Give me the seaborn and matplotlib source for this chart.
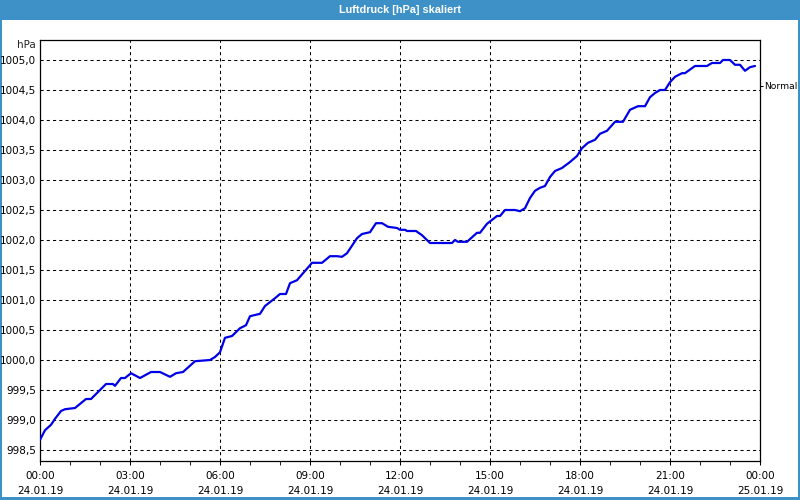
import matplotlib
matplotlib.use("Agg")
import matplotlib.pyplot as plt
import matplotlib.dates as mdates
from matplotlib.patches import Rectangle
from matplotlib.ticker import FuncFormatter
import numpy as np
import pandas as pd
import seaborn as sns

# ---- data (minutes after 24.01.19 00:00, pressure in hPa) ----
minutes = [0, 10, 22, 30, 42, 50, 70, 92, 102, 132, 146, 150, 162, 170, 182, 200,
           222, 240, 260, 272, 286, 310, 340, 350, 360, 370, 384, 400, 412, 420,
           440, 450, 470, 480, 492, 500, 514, 540, 544, 564, 580, 594, 604, 614,
           634, 644, 660, 672, 684, 696, 714, 720, 730, 734, 752, 764, 780, 824,
           830, 836, 854, 874, 880, 894, 914, 920, 930, 950, 960, 970, 980, 990,
           1000, 1010, 1020, 1030, 1044, 1060, 1074, 1084, 1096, 1110, 1120, 1134,
           1150, 1166, 1180, 1196, 1210, 1220, 1230, 1240, 1250, 1260, 1270, 1284,
           1290, 1310, 1334, 1344, 1360, 1366, 1380, 1390, 1400, 1410, 1420, 1430]
pressure = [998.67, 998.83, 998.92, 999.02, 999.15, 999.18, 999.20, 999.35, 999.35,
            999.60, 999.60, 999.57, 999.70, 999.70, 999.78, 999.70, 999.80, 999.80,
            999.72, 999.78, 999.80, 999.98, 1000.00, 1000.05, 1000.13, 1000.37,
            1000.40, 1000.53, 1000.58, 1000.73, 1000.77, 1000.90, 1001.03, 1001.10,
            1001.10, 1001.28, 1001.33, 1001.58, 1001.62, 1001.62, 1001.73, 1001.73,
            1001.72, 1001.78, 1002.03, 1002.10, 1002.13, 1002.28, 1002.28, 1002.22,
            1002.20, 1002.17, 1002.17, 1002.15, 1002.15, 1002.08, 1001.95, 1001.95,
            1002.00, 1001.97, 1001.97, 1002.12, 1002.12, 1002.27, 1002.40, 1002.40,
            1002.50, 1002.50, 1002.48, 1002.53, 1002.70, 1002.82, 1002.87, 1002.90,
            1003.05, 1003.15, 1003.20, 1003.30, 1003.40, 1003.53, 1003.62, 1003.67,
            1003.77, 1003.82, 1003.97, 1003.97, 1004.17, 1004.23, 1004.23, 1004.38,
            1004.45, 1004.50, 1004.50, 1004.63, 1004.72, 1004.78, 1004.78, 1004.90,
            1004.90, 1004.95, 1004.95, 1005.00, 1005.00, 1004.92, 1004.92, 1004.82,
            1004.88, 1004.90]
y_ticks = [998.5, 999.0, 999.5, 1000.0, 1000.5, 1001.0, 1001.5, 1002.0, 1002.5,
           1003.0, 1003.5, 1004.0, 1004.5, 1005.0]
normal_level = 1004.57
title = "Luftdruck [hPa] skaliert"
unit = "hPa"
normal_label = "Normal"

start = pd.Timestamp("2019-01-24 00:00")
end = pd.Timestamp("2019-01-25 00:00")
df = pd.DataFrame({"time": start + pd.to_timedelta(minutes, unit="min"),
                   "value": pressure})

sns.set_style("white")
plt.rcParams["font.family"] = ["DejaVu Sans"]
plt.rcParams["font.size"] = 7

W, H = 800, 500
fig = plt.figure(figsize=(8, 5), dpi=100)
fig.patch.set_facecolor("white")

blue = "#3d91c6"
# title bar and border
fig.add_artist(Rectangle((0, 1 - 20 / H), 1, 20 / H, transform=fig.transFigure,
                         facecolor=blue, edgecolor="none", zorder=0))
fig.add_artist(Rectangle((0, 0), 2 / W, 1, transform=fig.transFigure,
                         facecolor=blue, edgecolor="none", zorder=0))
fig.add_artist(Rectangle((1 - 2 / W, 0), 2 / W, 1, transform=fig.transFigure,
                         facecolor=blue, edgecolor="none", zorder=0))
fig.add_artist(Rectangle((0, 0), 1, 3 / H, transform=fig.transFigure,
                         facecolor=blue, edgecolor="none", zorder=0))
fig.text(0.5, 1 - 10 / H, title, color="white", fontweight="bold",
         family=["Liberation Sans"], fontsize=7.8, ha="center", va="center")

left, right, top, bottom = 40, 760, 40, 461
ax = fig.add_axes([left / W, 1 - bottom / H, (right - left) / W, (bottom - top) / H])
ax.set_facecolor("white")

sns.lineplot(data=df, x="time", y="value", ax=ax, color="#0000e6", linewidth=1.6,
             zorder=3)

ax.set_xlim(start, end)
ax.set_ylim(998.317, 1005.333)
ax.set_yticks(y_ticks)
ax.yaxis.set_major_formatter(FuncFormatter(lambda v, p: f"{v:.1f}".replace(".", ",")))
ax.xaxis.set_major_locator(mdates.HourLocator(byhour=range(0, 24, 3)))
ax.xaxis.set_minor_locator(mdates.HourLocator())
ax.xaxis.set_major_formatter(mdates.DateFormatter("%H:%M\n%d.%m.%y"))
ax.set_xlabel("")
ax.set_ylabel("")

ax.grid(True, which="major", color="black", linestyle=(0, (3, 3)), linewidth=0.75)
ax.tick_params(axis="y", which="both", length=0, pad=3, labelsize=7.5, colors="black")
ax.tick_params(axis="x", which="major", length=3, width=0.75, pad=4, labelsize=7.5,
               direction="out", bottom=True, colors="black")
ax.tick_params(axis="x", which="minor", length=3, width=0.75, direction="out",
               bottom=True)
for lab in ax.get_xticklabels():
    lab.set_linespacing(1.6)
for s in ax.spines.values():
    s.set_color("black")
    s.set_linewidth(0.9)

# right "Normal" marker
ax2 = ax.twinx()
ax2.set_ylim(ax.get_ylim())
ax2.set_yticks([normal_level])
ax2.set_yticklabels([normal_label])
ax2.tick_params(axis="y", length=2.2, width=0.75, pad=0.8, labelsize=6.6, colors="black")
ax2.grid(False)
for s in ax2.spines.values():
    s.set_visible(False)

fig.text(36 / W, 1 - 45 / H, unit, ha="right", va="center", fontsize=7.5)

fig.savefig("out.png", dpi=100)
